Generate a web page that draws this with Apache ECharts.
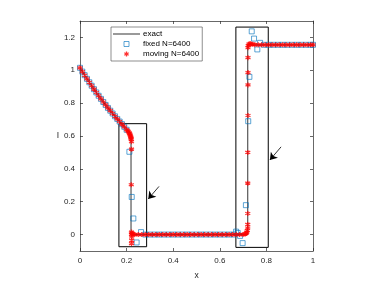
<!DOCTYPE html>
<html>
<head>
<meta charset="utf-8">
<script src="https://cdn.jsdelivr.net/npm/echarts@6/dist/echarts.min.js"></script>
<style>html,body{margin:0;padding:0;background:#fff;}#c{width:380px;height:285px;}</style>
</head>
<body>
<div id="c"></div>
<script>
// ---- data ----
var exactX = [0, 0.02, 0.04, 0.06, 0.08, 0.1, 0.12, 0.14, 0.16, 0.18, 0.2, 0.219, 0.219, 0.72, 0.72, 1];
var exactY = [1.015, 0.97, 0.927, 0.885, 0.845, 0.807, 0.771, 0.737, 0.704, 0.672, 0.641, 0.613, 0, 0, 1.155, 1.155];

var fixedX = [0, 0.01, 0.02, 0.03, 0.04, 0.05, 0.06, 0.07, 0.08, 0.09, 0.1, 0.11, 0.12, 0.13, 0.14, 0.15, 0.16, 0.17, 0.18, 0.19, 0.2,
  0.212, 0.222, 0.229, 0.243, 0.262,
  0.28, 0.3, 0.32, 0.34, 0.36, 0.38, 0.4, 0.42, 0.44, 0.46, 0.48, 0.5, 0.52, 0.54, 0.56, 0.58, 0.6, 0.62, 0.64, 0.66,
  0.67, 0.677, 0.687, 0.698, 0.712, 0.722, 0.727, 0.737, 0.747, 0.761, 0.773,
  0.79, 0.81, 0.83, 0.85, 0.87, 0.89, 0.91, 0.93, 0.95, 0.97, 0.99, 1.0];
var fixedY = [1.015, 0.992, 0.97, 0.948, 0.927, 0.906, 0.885, 0.865, 0.845, 0.826, 0.807, 0.789, 0.771, 0.754, 0.737, 0.72, 0.704, 0.688, 0.672, 0.656, 0.638,
  0.504, 0.229, 0.098, -0.048, 0.015,
  0, 0, 0, 0, 0, 0, 0, 0, 0, 0, 0, 0, 0, 0, 0, 0, 0, 0, 0, 0,
  0.018, 0.01, -0.008, -0.052, 0.179, 0.69, 0.96, 1.237, 1.193, 1.127, 1.167,
  1.155, 1.155, 1.155, 1.155, 1.155, 1.155, 1.155, 1.155, 1.155, 1.155, 1.155, 1.155];

var movingX = [0, 0.01, 0.02, 0.03, 0.04, 0.05, 0.06, 0.07, 0.08, 0.09, 0.1, 0.11, 0.12, 0.13, 0.14, 0.15, 0.16, 0.17, 0.18, 0.19, 0.2,
  0.205, 0.208, 0.211, 0.213, 0.215, 0.217, 0.218, 0.219, 0.22, 0.221, 0.221, 0.22, 0.221, 0.221, 0.222, 0.222, 0.221, 0.224, 0.228, 0.235,
  0.25, 0.265, 0.28, 0.295, 0.31, 0.325, 0.34, 0.355, 0.37, 0.385, 0.4, 0.415, 0.43, 0.445, 0.46, 0.475, 0.49, 0.505, 0.52, 0.535,
  0.55, 0.565, 0.58, 0.595, 0.61, 0.625, 0.64, 0.655, 0.67, 0.685,
  0.7, 0.708, 0.713, 0.716, 0.718, 0.72, 0.72, 0.72, 0.72, 0.72, 0.721, 0.721, 0.721, 0.721, 0.721, 0.722, 0.725, 0.73, 0.735, 0.742, 0.75,
  0.765, 0.78, 0.795, 0.81, 0.825, 0.84, 0.855, 0.87, 0.885, 0.9, 0.915, 0.93, 0.945, 0.96, 0.975, 0.99, 1.0];
var movingY = [1.015, 0.992, 0.97, 0.948, 0.927, 0.906, 0.885, 0.865, 0.845, 0.826, 0.807, 0.789, 0.771, 0.754, 0.737, 0.72, 0.704, 0.688, 0.672, 0.656, 0.638,
  0.632, 0.626, 0.62, 0.614, 0.607, 0.6, 0.593, 0.586, 0.58, 0.565, 0.52, 0.303, 0.015, 0.0, -0.015, -0.035, -0.055, 0.008, 0.003, 0.0,
  0, 0, 0, 0, 0, 0, 0, 0, 0, 0, 0, 0, 0, 0, 0, 0, 0, 0, 0, 0,
  0, 0, 0, 0, 0, 0, 0, 0, 0, 0,
  0.0, 0.003, 0.008, 0.015, 0.025, 0.04, 0.062, 0.128, 0.313, 0.5, 0.725, 0.911, 0.986, 1.077, 1.137, 1.15, 1.16, 1.163, 1.16, 1.158, 1.156,
  1.155, 1.155, 1.155, 1.155, 1.155, 1.155, 1.155, 1.155, 1.155, 1.155, 1.155, 1.155, 1.155, 1.155, 1.155, 1.155, 1.155];

var yTicks = [0, 0.2, 0.4, 0.6, 0.8, 1, 1.2];
var boxes = [[0.167, -0.074, 0.286, 0.675], [0.669, -0.078, 0.808, 1.263]];
var arrows = [[0.339, 0.293, 0.293, 0.217], [0.863, 0.534, 0.815, 0.454]];

function pairs(xs, ys) { return xs.map(function (x, i) { return [x, ys[i]]; }); }

var axisColor = '#262626';
var font = 'Liberation Sans, Arial, sans-serif';
var asterisk = 'path://M5,0L5,10M0.67,2.5L9.33,7.5M0.67,7.5L9.33,2.5';
var axLine = { show: true, onZero: false, lineStyle: { color: axisColor, width: 0.7 } };
var fixedStyle = { color: 'rgba(0,0,0,0)', borderColor: '#0072BD', borderWidth: 0.8 };
var movingStyle = { color: 'rgba(0,0,0,0)', borderColor: '#ff0000', borderWidth: 1.3 };

var chart = echarts.init(document.getElementById('c'), null, { renderer: 'canvas' });
chart.setOption({
  backgroundColor: '#fff',
  animation: false,
  textStyle: { fontFamily: font },
  grid: { left: 80, top: 21, width: 233, height: 232, containLabel: false },
  legend: {
    left: 111, top: 27,
    orient: 'vertical',
    backgroundColor: '#fff',
    borderColor: '#444', borderWidth: 0.6, borderRadius: 0,
    padding: [3, 3, 3, 2],
    itemWidth: 27, itemHeight: 5, itemGap: 2,
    symbolKeepAspect: true,
    textStyle: { fontSize: 8, color: '#000', fontFamily: font, lineHeight: 8, padding: [0, 0, 0, -2] },
    data: [
      { name: 'exact', icon: 'path://M0,0L27,0L27,0.8L0,0.8Z', itemStyle: { color: '#000', borderWidth: 0 } },
      { name: 'fixed N=6400', icon: 'path://M0,0L10,0L10,10L0,10Z', itemStyle: fixedStyle },
      { name: 'moving N=6400', icon: asterisk, itemStyle: movingStyle }
    ]
  },
  xAxis: [{
    type: 'value', min: 0, max: 1, interval: 0.2, position: 'bottom',
    name: 'x', nameLocation: 'middle', nameGap: 20, nameMoveOverlap: false,
    nameTextStyle: { fontSize: 8.5, color: axisColor },
    axisLine: axLine,
    axisTick: { show: true, inside: true, length: 3, lineStyle: { color: axisColor, width: 0.7 } },
    axisLabel: { fontSize: 8, color: axisColor, margin: 6 },
    splitLine: { show: false }
  }, {
    type: 'value', min: 0, max: 1, interval: 0.2, position: 'top',
    axisLine: axLine,
    axisTick: { show: true, inside: true, length: 3, lineStyle: { color: axisColor, width: 0.7 } },
    axisLabel: { show: false },
    splitLine: { show: false }
  }],
  yAxis: [{
    type: 'value', min: -0.1, max: 1.3, position: 'left',
    name: 'I', nameLocation: 'middle', nameGap: 21, nameRotate: 0, nameMoveOverlap: false,
    nameTextStyle: { fontSize: 8.5, color: axisColor },
    axisLine: axLine,
    axisTick: { show: true, inside: true, length: 3, customValues: yTicks, lineStyle: { color: axisColor, width: 0.7 } },
    axisLabel: { fontSize: 8, color: axisColor, margin: 5, customValues: yTicks },
    splitLine: { show: false }
  }, {
    type: 'value', min: -0.1, max: 1.3, position: 'right',
    axisLine: axLine,
    axisTick: { show: true, inside: true, length: 3, customValues: yTicks, lineStyle: { color: axisColor, width: 0.7 } },
    axisLabel: { show: false, customValues: yTicks },
    splitLine: { show: false }
  }],
  series: [{
    name: 'exact', type: 'line', xAxisIndex: 0, yAxisIndex: 0,
    data: pairs(exactX, exactY),
    symbol: 'none', showSymbol: false,
    lineStyle: { color: '#000', width: 0.8 },
    itemStyle: { color: '#000' },
    z: 2, silent: true
  }, {
    name: 'fixed N=6400', type: 'scatter', xAxisIndex: 0, yAxisIndex: 0,
    data: pairs(fixedX, fixedY),
    symbol: 'rect', symbolSize: 5,
    itemStyle: fixedStyle,
    z: 3, silent: true
  }, {
    name: 'moving N=6400', type: 'scatter', xAxisIndex: 0, yAxisIndex: 0,
    data: pairs(movingX, movingY),
    symbol: asterisk, symbolSize: 5,
    itemStyle: movingStyle,
    z: 4, silent: true
  }, {
    name: 'annot', type: 'line', xAxisIndex: 0, yAxisIndex: 0,
    data: [], silent: true, z: 5,
    markArea: {
      silent: true,
      itemStyle: { color: 'rgba(0,0,0,0)', borderColor: '#000', borderWidth: 1 },
      data: boxes.map(function (b) { return [{ coord: [b[0], b[1]] }, { coord: [b[2], b[3]] }]; })
    },
    markLine: {
      silent: true, animation: false,
      symbol: ['none', 'arrow'], symbolSize: 7,
      label: { show: false },
      lineStyle: { color: '#000', width: 0.8, type: 'solid' },
      itemStyle: { color: '#000' },
      data: arrows.map(function (a) { return [{ coord: [a[0], a[1]] }, { coord: [a[2], a[3]] }]; })
    }
  }]
});
</script>
</body>
</html>
